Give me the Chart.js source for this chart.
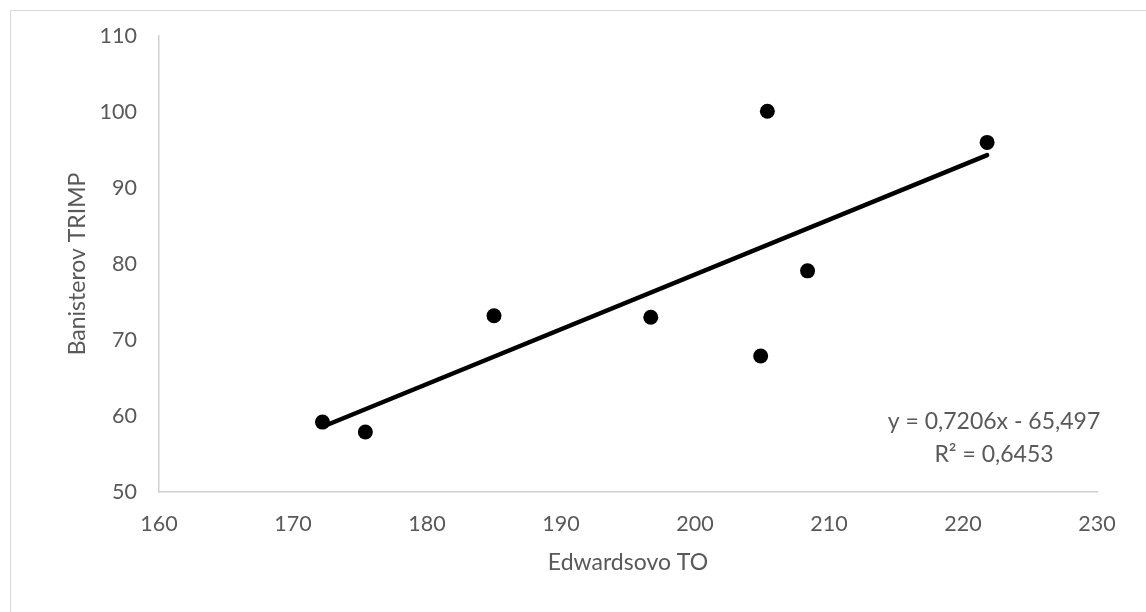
<!DOCTYPE html>
<html>
<head>
<meta charset="utf-8">
<script src="https://cdn.jsdelivr.net/npm/chart.js@4.4.1/dist/chart.umd.min.js"></script>
<style>
  html, body { margin: 0; padding: 0; background: #fff; }
  #wrap { position: relative; width: 1146px; height: 612px; }
  #frame { position: absolute; left: 10px; top: 10px; width: 1146px; height: 612px; border: 1px solid #d9d9d9; box-sizing: border-box; pointer-events: none; }
  canvas { position: absolute; left: 0; top: 0; }
</style>
</head>
<body>
<div id="wrap">
  <canvas id="c" width="1146" height="612"></canvas>
  <div id="frame"></div>
</div>
<script>
// ---- data ----
const xValues = [172.2, 175.4, 185.0, 196.7, 204.9, 205.4, 208.4, 221.8];
const yValues = [59.2, 57.9, 73.2, 73.0, 67.9, 100.1, 79.1, 96.0];
const slope = 0.7206;
const intercept = -65.497;
const equationText = "y = 0,7206x - 65,497";
const r2Text = "R\u00B2 = 0,6453";
const xTitle = "Edwardsovo TO";
const yTitle = "Banisterov TRIMP";
const xMin = 160, xMax = 230, xStep = 10;
const yMin = 50, yMax = 110, yStep = 10;

const points = xValues.map((x, i) => ({ x: x, y: yValues[i] }));
const tx0 = Math.min(...xValues), tx1 = Math.max(...xValues);
const trend = [
  { x: tx0, y: slope * tx0 + intercept },
  { x: tx1, y: slope * tx1 + intercept }
];

const FONT = "Lato, 'Open Sans', sans-serif";
const TEXT = "#595959";

const labelPlugin = {
  id: 'eqLabel',
  afterDatasetsDraw(chart) {
    const ctx = chart.ctx;
    const a = chart.chartArea;
    ctx.save();
    ctx.fillStyle = TEXT;
    ctx.font = "23px " + FONT;
    ctx.textAlign = "center";
    ctx.textBaseline = "middle";
    const cx = a.right - 103;
    ctx.fillText(equationText, cx, a.bottom - 70);
    ctx.fillText(r2Text, cx, a.bottom - 37);
    ctx.restore();
  }
};

new Chart(document.getElementById('c'), {
  type: 'scatter',
  data: {
    datasets: [
      {
        type: 'line',
        data: trend,
        borderColor: '#000',
        borderWidth: 4.5,
        borderCapStyle: 'round',
        pointRadius: 0,
        fill: false,
        order: 2
      },
      {
        data: points,
        backgroundColor: '#000',
        borderColor: '#000',
        pointRadius: 7.5,
        pointHoverRadius: 7.5,
        borderWidth: 0,
        order: 1
      }
    ]
  },
  options: {
    responsive: false,
    animation: false,
    devicePixelRatio: 1,
    layout: { padding: { left: 0, right: 49, top: 36, bottom: 0 } },
    plugins: { legend: { display: false }, tooltip: { enabled: false } },
    scales: {
      x: {
        type: 'linear',
        min: xMin, max: xMax,
        afterFit(s) { s.height = 120; },
        grid: { display: false, drawTicks: false },
        border: { display: true, color: '#d0d0d0', width: 1.5 },
        ticks: { stepSize: xStep, color: TEXT, font: { family: FONT, size: 21.5 }, padding: 19, maxRotation: 0 },
        title: { display: true, text: xTitle, color: TEXT, font: { family: FONT, size: 23 }, padding: { top: 0, bottom: 36 } }
      },
      y: {
        type: 'linear',
        min: yMin, max: yMax,
        afterFit(s) { s.width = 159; },
        grid: { display: false, drawTicks: false },
        border: { display: true, color: '#d0d0d0', width: 1.5 },
        ticks: { stepSize: yStep, color: TEXT, font: { family: FONT, size: 21.5 }, padding: 22 },
        title: { display: true, text: yTitle, color: TEXT, font: { family: FONT, size: 23 }, padding: { top: 64, bottom: 0 } }
      }
    }
  },
  plugins: [labelPlugin]
});
</script>
</body>
</html>
